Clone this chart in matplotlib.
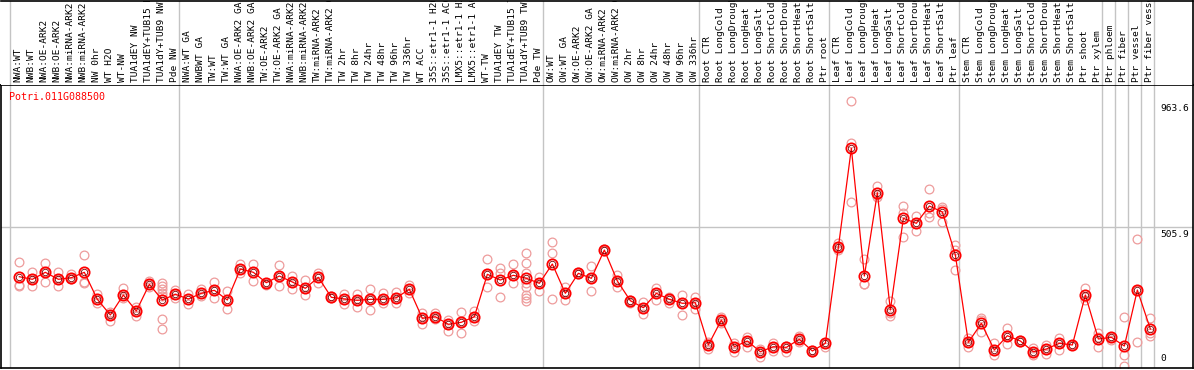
import matplotlib
matplotlib.use("Agg")
import matplotlib.pyplot as plt

# ==========================================
# data
# ==========================================

gene_id = "Potri.011G088500"

sample_labels = [
    "NWA:WT", "NWB:WT", "NWA:OE-ARK2", "NWB:OE-ARK2", "NWA:miRNA-ARK2",
    "NWB:miRNA-ARK2", "NW 0hr", "WT H2O", "WT-NW", "TUA1dEY NW",
    "TUA1dEY+TUB15 NW", "TUA1dY+TUB9 NW", "Pde NW",
    "NWA:WT GA", "NWBWT GA", "TW:WT", "TW:WT GA", "NWA:OE-ARK2 GA",
    "NWB:OE-ARK2 GA", "TW:OE-ARK2", "TW:OE-ARK2 GA", "NWA:miRNA-ARK2 GA",
    "NWB:miRNA-ARK2 GA", "TW:miRNA-ARK2", "TW:miRNA-ARK2 GA", "TW 2hr",
    "TW 8hr", "TW 24hr", "TW 48hr", "TW 96hr", "TW 336hr", "WT ACC",
    "35S::etr1-1 H2O", "35S::etr1-1 ACC", "LMX5::etr1-1 H2O",
    "LMX5::etr1-1 ACC", "WT-TW", "TUA1dEY TW", "TUA1dEY+TUB15 TW",
    "TUA1dY+TUB9 TW", "Pde TW",
    "OW:WT", "OW:WT GA", "OW:OE-ARK2", "OW:OE-ARK2 GA", "OW:miRNA-ARK2",
    "OW:miRNA-ARK2 GA", "OW 2hr", "OW 8hr", "OW 24hr", "OW 48hr", "OW 96hr",
    "OW 336hr",
    "Root CTR", "Root LongCold", "Root LongDrought", "Root LongHeat",
    "Root LongSalt", "Root ShortCold", "Root ShortDrought", "Root ShortHeat",
    "Root ShortSalt", "Ptr root",
    "Leaf CTR", "Leaf LongCold", "Leaf LongDrought", "Leaf LongHeat",
    "Leaf LongSalt", "Leaf ShortCold", "Leaf ShortDrought", "Leaf ShortHeat",
    "Leaf ShortSalt", "Ptr leaf",
    "Stem CTR", "Stem LongCold", "Stem LongDrought", "Stem LongHeat",
    "Stem LongSalt", "Stem ShortCold", "Stem ShortDrought", "Stem ShortHeat",
    "Stem ShortSalt", "Ptr shoot", "Ptr xylem",
    "Ptr phloem", "Ptr fiber", "Ptr vessel", "Ptr fiber vessel",
]

# index of the first sample of every block (separator drawn before it)
group_starts = [0, 13, 41, 53, 63, 73, 84, 85, 86, 87, 88]

mean_values = [
    326.6, 317.2, 342.5, 317.2, 323.0, 342.5, 244.8, 188.1, 260.4, 202.5,
    299.1, 242.3, 262.9, 245.9, 266.5, 277.4, 242.3, 354.4, 342.5, 304.9,
    329.1, 307.4, 284.6, 324.4, 252.1, 245.9, 241.2, 244.8, 244.8, 250.6,
    281.0, 176.1, 181.9, 154.4, 161.7, 181.9, 335.3, 314.6, 331.6, 320.8,
    302.7, 372.5, 266.5, 338.9, 320.8, 423.1, 311.0, 239.8, 214.5, 266.5,
    244.8, 230.4, 232.5, 79.6, 170.0, 73.4, 94.0, 55.3, 73.4, 71.2,
    100.2, 57.9, 85.7, 432.9, 791.0, 329.1, 630.4, 206.1, 537.8, 519.7,
    582.3, 560.6, 405.1, 89.3, 158.0, 61.5, 113.2, 94.0, 55.3, 65.1,
    85.7, 79.6, 260.4, 101.3, 107.4, 75.9, 278.5, 137.4,
]

replicate_values = [
    [380.8, 296.6, 294.0], [342.5, 318.3, 292.9], [375.0, 308.5, 342.5],
    [342.5, 292.9, 317.2], [335.3, 317.2, 323.0], [405.1, 308.5, 302.7],
    [264.0, 230.4, 244.8], [200.0, 167.4, 188.1], [284.6, 248.5, 260.4],
    [218.1, 185.5, 202.5], [311.0, 290.4, 299.1],
    [304.9, 292.9, 281.0, 268.7, 256.8, 172.5, 137.4],
    [278.5, 250.6, 262.9], [262.9, 227.8, 245.9], [281.0, 256.8, 266.5],
    [306.3, 248.5, 277.4], [274.9, 208.7, 242.3], [372.5, 338.9, 354.4],
    [372.5, 311.0, 342.5], [302.7, 296.6, 304.9], [368.9, 292.9, 329.1],
    [330.2, 282.1, 307.4], [314.6, 260.4, 284.6], [338.9, 304.9, 324.4],
    [256.8, 248.5, 252.1], [262.9, 227.8, 245.9], [262.9, 218.1, 241.2],
    [281.0, 247.0, 206.1], [266.5, 232.5, 244.8], [272.3, 232.5, 250.6],
    [296.6, 266.5, 281.0], [194.2, 154.4, 176.1], [194.2, 172.5, 181.9],
    [170.0, 131.3, 154.4], [197.8, 121.9, 161.7], [203.6, 167.4, 181.9],
    [389.5, 288.2, 335.3], [357.0, 338.9, 252.1], [371.4, 304.9, 331.6],
    [411.2, 375.0, 341.0, 304.9, 290.4, 260.4, 248.5, 238.7],
    [326.6, 275.9, 302.7], [453.2, 413.4, 244.8], [290.4, 242.3, 266.5],
    [338.9, 335.0, 342.0], [365.3, 274.9, 320.8], [423.1, 420.0, 426.0],
    [332.7, 288.2, 311.0], [242.3, 230.4, 239.8], [236.2, 190.6, 214.5],
    [284.6, 242.3, 266.5], [254.2, 232.5, 244.8], [260.4, 188.1, 230.4],
    [254.2, 208.7, 232.5], [91.5, 65.1, 79.6], [181.9, 160.2, 170.0],
    [85.7, 55.3, 73.4], [107.4, 73.4, 94.0], [64.0, 37.3, 55.3],
    [87.9, 59.0, 73.4], [77.0, 55.3, 71.2], [112.1, 91.5, 100.2],
    [61.5, 55.3, 57.9], [87.9, 71.2, 85.7], [449.5, 423.1, 432.9],
    [963.6, 809.0, 595.6], [389.5, 299.1, 299.1], [654.6, 622.1, 614.8],
    [238.7, 195.3, 184.4], [582.3, 558.0, 469.1], [546.1, 520.8, 491.9],
    [643.8, 558.0, 543.6], [579.7, 570.3, 525.5], [441.2, 423.1, 350.8],
    [103.8, 73.4, 89.3], [176.1, 170.0, 127.7], [85.7, 43.4, 61.5],
    [140.0, 116.8, 83.2], [94.0, 92.0, 96.0], [67.6, 43.4, 55.3],
    [79.6, 47.0, 65.1], [103.8, 61.5, 85.7], [79.6, 78.0, 81.0],
    [284.6, 254.2, 242.3], [121.9, 109.6, 71.2], [109.6, 97.6, 107.4],
    [179.7, 43.4, 3.6], [461.8, 91.5, 278.5], [176.1, 121.9, 112.1],
]

ytick_values = [0, 505.9, 963.6]
ytick_labels = ["0", "505.9", "963.6"]

MONO = "DejaVu Sans Mono"
GRID = "#c4c4c4"


def setup_axes(fig):
    W, H = 1194.0, 370.0
    left, right = 1 / W, 1193 / W
    ax = fig.add_axes([left, 2 / H, right - left, 283 / H])
    head = fig.add_axes([left, 285 / H, right - left, 84.5 / H])
    return ax, head


def plot_results(ax, head):
    n = len(sample_labels)
    x = list(range(n))
    xlim = (-1.41, 90.28)

    # expression plot
    ax.set_xlim(*xlim)
    ax.set_ylim(-3.6, 1020)
    for g in group_starts:
        ax.axvline(g - 0.7, color=GRID, lw=1.0, zorder=1)
    ax.axhline(ytick_values[1], color=GRID, lw=1.0, zorder=1)

    ax.plot(x, mean_values, color="red", lw=0.9, zorder=3)
    for i, reps in enumerate(replicate_values):
        ax.plot([i] * len(reps), reps, ls="none", marker="o", ms=6.3,
                mfc="none", mec="#ee9c9c", mew=0.9, zorder=2)
    ax.plot(x, mean_values, ls="none", marker="o", ms=7.4, mfc="none",
            mec="red", mew=1.3, zorder=4)
    ax.plot(x, mean_values, ls="none", marker="o", ms=4.6, mfc="none",
            mec="#7a0000", mew=0.6, zorder=5)

    # value labels along the right side
    xt = 87.75
    for v, s in zip(ytick_values, ytick_labels):
        va = "bottom" if v == 0 else "top"
        off = 4 if v == 0 else -3
        ax.annotate(s, (xt, v), xytext=(0, off), textcoords="offset pixels",
                    ha="left", va=va, family=MONO, fontsize=6.8, color="black")

    ax.text(0.007, 0.975, gene_id, transform=ax.transAxes, ha="left",
            va="top", family=MONO, fontsize=7.2, color="red")

    ax.set_xticks([])
    ax.set_yticks([])
    for sp in ax.spines.values():
        sp.set_linewidth(1.2)
        sp.set_color("black")

    # sample names in the header strip (long names are cut at the top edge)
    head.set_xlim(*xlim)
    head.set_ylim(0, 1)
    for g in group_starts:
        head.axvline(g - 0.7, color=GRID, lw=1.0, zorder=1)
    for i, lab in enumerate(sample_labels):
        head.text(i - 0.1, 0.03, lab, rotation=90, ha="center", va="bottom",
                  family=MONO, fontsize=6.8, color="black", clip_on=True)
    head.set_xticks([])
    head.set_yticks([])
    head.spines["left"].set_visible(False)
    head.spines["bottom"].set_visible(False)
    head.spines["top"].set_linewidth(1.2)
    head.spines["right"].set_linewidth(1.2)


def main():
    fig = plt.figure(figsize=(11.94, 3.70), dpi=100)
    fig.patch.set_facecolor("white")
    ax, head = setup_axes(fig)
    plot_results(ax, head)
    fig.savefig("out.png", dpi=100)


if __name__ == "__main__":
    main()
